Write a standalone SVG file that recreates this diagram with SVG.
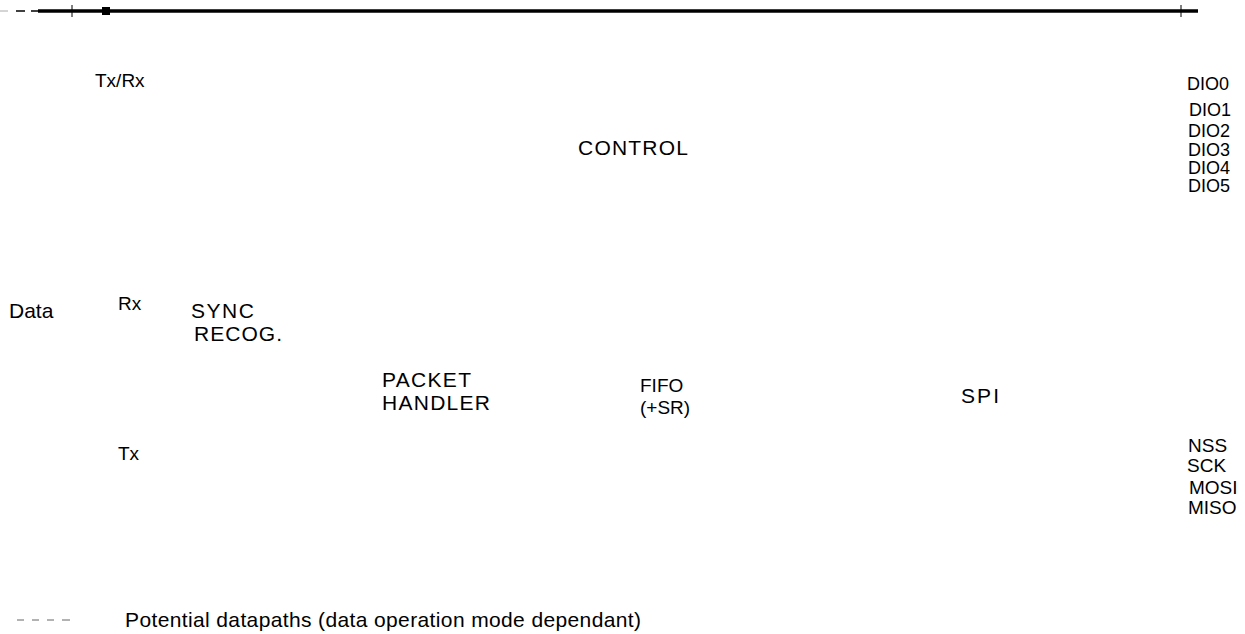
<svg xmlns="http://www.w3.org/2000/svg" width="1245" height="634" viewBox="0 0 1245 634">
<style>
text{font-family:"Liberation Sans",Arial,sans-serif;font-size:19px;fill:#000}
.big{font-size:21px}
.sm{font-size:18px}
.bus{stroke:#000;stroke-width:3.5;fill:none}
.dash{stroke:#000;stroke-width:1.5;fill:none}
.ldash{stroke:#666;stroke-width:1;fill:none}
.tick{stroke:#000;stroke-width:1;fill:none}
</style>
<rect width="1245" height="634" fill="#fff"/>
<g id="connectors">
<line class="dash" x1="0" y1="11" x2="8" y2="11" style="stroke:#aaa;stroke-width:1"/>
<line class="dash" x1="16" y1="11" x2="25" y2="11"/>
<line class="dash" x1="31" y1="11" x2="38" y2="11"/>
<line class="bus" x1="38" y1="11" x2="1198" y2="11"/>
<line class="tick" x1="72" y1="5" x2="72" y2="17"/>
<rect x="102" y="7" width="8" height="8" fill="#000"/>
<line class="tick" x1="1181" y1="5" x2="1181" y2="17"/>
</g>
<g id="txrx"><text x="95" y="87">Tx/Rx</text></g>
<g id="control"><text class="big" x="578" y="155" textLength="110" lengthAdjust="spacing">CONTROL</text></g>
<g id="dio">
<text class="sm" x="1187" y="90">DIO0</text>
<text class="sm" x="1189" y="116">DIO1</text>
<text class="sm" x="1188" y="137">DIO2</text>
<text class="sm" x="1188" y="156">DIO3</text>
<text class="sm" x="1188" y="174">DIO4</text>
<text class="sm" x="1188" y="192">DIO5</text>
</g>
<g id="data"><text class="big" x="9" y="318">Data</text></g>
<g id="rx"><text x="118" y="310">Rx</text></g>
<g id="sync"><text class="big" x="191" y="318" textLength="63" lengthAdjust="spacing">SYNC</text><text class="big" x="194" y="341" textLength="88" lengthAdjust="spacing">RECOG.</text></g>
<g id="packet"><text class="big" x="382" y="387" textLength="89" lengthAdjust="spacing">PACKET</text><text class="big" x="382" y="410" textLength="108" lengthAdjust="spacing">HANDLER</text></g>
<g id="fifo"><text x="640" y="392">FIFO</text><text x="640" y="414">(+SR)</text></g>
<g id="spi"><text class="big" x="961" y="403" textLength="38" lengthAdjust="spacing">SPI</text></g>
<g id="tx"><text x="118" y="460">Tx</text></g>
<g id="spipins">
<text x="1188" y="452">NSS</text>
<text x="1187" y="472">SCK</text>
<text x="1189" y="494">MOSI</text>
<text x="1188" y="514">MISO</text>
</g>
<g id="legend">
<line class="ldash" x1="17" y1="620" x2="24" y2="620"/>
<line class="ldash" x1="32" y1="620" x2="39" y2="620"/>
<line class="ldash" x1="47" y1="620" x2="54" y2="620"/>
<line class="ldash" x1="62" y1="620" x2="70" y2="620"/>
<text class="big" x="125" y="627" textLength="516" lengthAdjust="spacing">Potential datapaths (data operation mode dependant)</text>
</g>
</svg>
